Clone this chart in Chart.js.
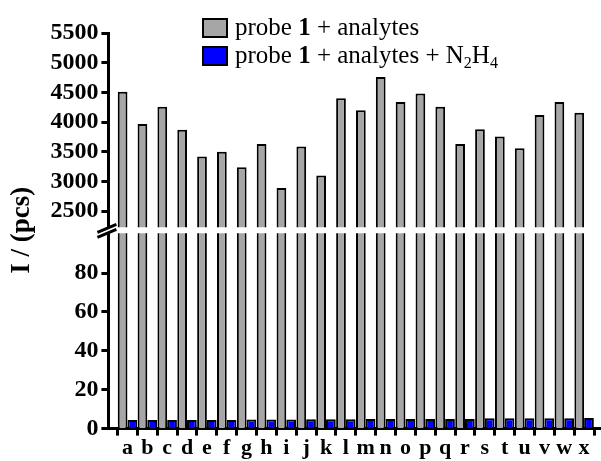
<!DOCTYPE html>
<html><head><meta charset="utf-8">
<script src="https://cdn.jsdelivr.net/npm/chart.js@4.4.0/dist/chart.umd.min.js"></script>
<style>
html,body{margin:0;padding:0;background:#fff;}
#wrap{position:relative;width:601px;height:461px;overflow:hidden;}
#legend{position:absolute;left:202px;top:13px;font-family:'Liberation Serif','Times New Roman',serif;font-size:25px;color:#000;}
.row{position:relative;height:28px;line-height:28px;white-space:nowrap;padding-left:33px;}
.sw{position:absolute;left:0;top:5px;width:22px;height:16px;border:2px solid #000;}
sub{font-size:16px;vertical-align:-5px;line-height:0;}
</style></head><body>
<div id="wrap"><canvas id="c" width="601" height="461"></canvas><div id="legend"></div></div>
<script>
const categories = ['a','b','c','d','e','f','g','h','i','j','k','l','m','n','o','p','q','r','s','t','u','v','w','x'];
const probeValues = [4510,3970,4260,3870,3420,3500,3240,3630,2890,3590,3100,4400,4200,4760,4340,4480,4260,3630,3880,3760,3560,4120,4340,4160];
const hydrazineValues = [4.4,4.4,4.4,4.4,4.4,4.4,4.7,4.7,4.7,4.8,4.8,4.8,4.9,4.9,4.9,4.9,4.9,5.0,5.3,5.3,5.3,5.3,5.3,5.4];
const upperRange = [2230, 5500];
const upperTicks = [2500, 3000, 3500, 4000, 4500, 5000, 5500];
const lowerRange = [0, 100.5];
const lowerTicks = [0, 20, 40, 60, 80];
const legendEntries = [
  {color:'#a6a6a6', html:'probe <b>1</b> + analytes'},
  {color:'#0000ff', html:'probe <b>1</b> + analytes + N<sub>2</sub>H<sub>4</sub>'}
];

const FONT = "'Liberation Serif','Times New Roman',serif";
const toXY = arr => arr.map((v,i)=>({x:i,y:v}));

const leg = document.getElementById('legend');
legendEntries.forEach(e => {
  const r = document.createElement('div'); r.className='row';
  const s = document.createElement('span'); s.className='sw'; s.style.background=e.color;
  const t = document.createElement('span'); t.innerHTML = e.html;
  r.appendChild(s); r.appendChild(t); leg.appendChild(r);
});

const breakPlugin = {
  id:'axisBreak',
  afterDraw(chart){
    const g = chart.scales.yGap; const L = chart.chartArea.left;
    const cy = (g.top + g.bottom)/2; const ctx = chart.ctx;
    ctx.save(); ctx.strokeStyle='#000'; ctx.lineWidth=3; ctx.beginPath();
    ctx.moveTo(L-11, cy+2); ctx.lineTo(L+8, cy-6);
    ctx.moveTo(L-11, cy+7); ctx.lineTo(L+8, cy-1);
    ctx.stroke(); ctx.restore();
  }
};

const tickFont = {family:FONT, size:24, weight:'bold'};
const barStyle = {borderColor:'#000', borderWidth:2, clip:0};
const setTicks = vals => (s => { s.ticks = vals.map(v => ({value:v})); });

new Chart(document.getElementById('c'), {
  type:'bar',
  data:{ datasets:[
    Object.assign({label:'probe 1 + analytes', data:toXY(probeValues), yAxisID:'yTop', stack:'g', backgroundColor:'#a6a6a6'}, barStyle),
    Object.assign({label:'probe 1 + analytes', data:toXY(probeValues), yAxisID:'yBot', stack:'g', backgroundColor:'#a6a6a6'}, barStyle),
    Object.assign({label:'probe 1 + analytes + N₂H₄', data:toXY(hydrazineValues), yAxisID:'yBot', stack:'b', backgroundColor:'#0000ff'}, barStyle)
  ]},
  options:{
    responsive:false, animation:false,
    layout:{padding:{left:4, right:1, top:33, bottom:0}},
    datasets:{bar:{categoryPercentage:0.98, barPercentage:1}},
    plugins:{legend:{display:false}, tooltip:{enabled:false}},
    scales:{
      x:{type:'linear', position:'bottom', min:-0.96, max:23.8, offset:false,
        ticks:{stepSize:1, includeBounds:false, autoSkip:false, maxRotation:0, font:{family:FONT,size:22,weight:'bold',lineHeight:0.7}, color:'#000', padding:5,
          callback:v => Number.isInteger(v) ? categories[v] : ''},
        grid:{drawOnChartArea:false, drawTicks:true, tickLength:7, tickWidth:3, tickColor:'#000'},
        border:{display:true, width:3, color:'#000'}},
      yTop:{type:'linear', position:'left', stack:'y', stackWeight:195, weight:3, min:upperRange[0], max:upperRange[1], stacked:false,
        afterBuildTicks: setTicks(upperTicks),
        ticks:{autoSkip:false, font:tickFont, color:'#000', padding:3, callback:v => String(v)},
        grid:{drawOnChartArea:false, drawTicks:true, tickLength:7, tickWidth:3, tickColor:'#000'},
        border:{display:true, width:3, color:'#000'}},
      yGap:{type:'linear', position:'left', stack:'y', stackWeight:6, weight:2, stacked:false,
        ticks:{display:false}, grid:{display:false, drawTicks:false}, border:{display:false},
        title:{display:true, text:'I / (pcs)', font:{family:FONT,size:27,weight:'bold'}, color:'#000', padding:{top:2,bottom:70}}},
      yBot:{type:'linear', position:'left', stack:'y', stackWeight:196, weight:1, min:lowerRange[0], max:lowerRange[1], stacked:false,
        afterBuildTicks: setTicks(lowerTicks),
        ticks:{autoSkip:false, font:tickFont, color:'#000', padding:3, callback:v => String(v)},
        grid:{drawOnChartArea:false, drawTicks:true, tickLength:7, tickWidth:3, tickColor:'#000'},
        border:{display:true, width:3, color:'#000'}}
    }
  },
  plugins:[breakPlugin]
});
</script></body></html>
